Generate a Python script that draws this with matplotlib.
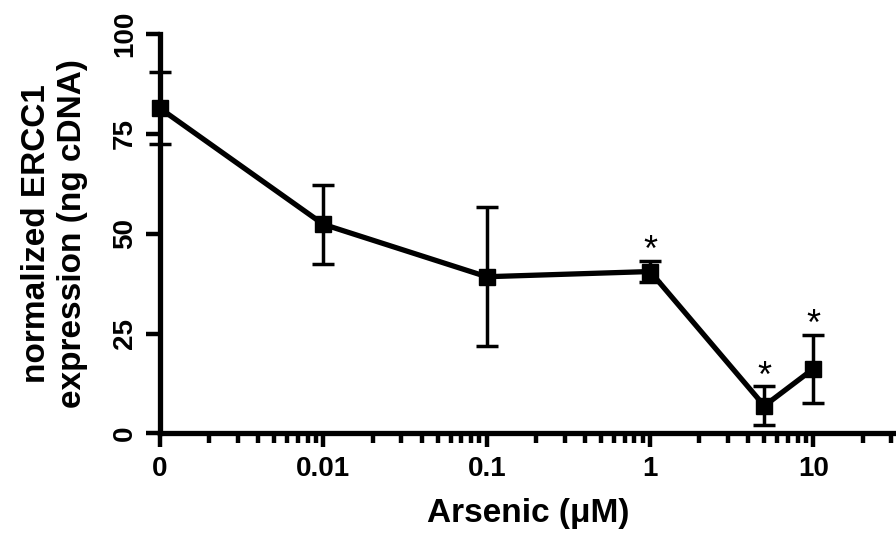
import matplotlib
matplotlib.use("Agg")
import matplotlib.pyplot as plt
from matplotlib.ticker import FixedLocator, FixedFormatter, LogLocator, NullFormatter

plt.rcParams['font.family'] = ['Liberation Sans', 'DejaVu Sans']
plt.rcParams['font.weight'] = 'bold'

# arsenic dose (uM); the "0" dose is drawn at 0.001 on the log axis
dose = [0.001, 0.01, 0.1, 1, 5, 10]
expr = [81.3, 52.3, 39.2, 40.5, 6.9, 16.2]
sem = [9.0, 9.8, 17.4, 2.7, 4.9, 8.5]
signif = [False, False, False, True, True, True]

xtick_pos = [0.001, 0.01, 0.1, 1, 10]
xtick_lab = ['0', '0.01', '0.1', '1', '10']
ytick_pos = [0, 25, 50, 75, 100]

fig = plt.figure(figsize=(8.96, 5.43), dpi=100)
ax = fig.add_axes([0.1786, 0.2017, 0.8214, 0.7364])

ax.errorbar(dose, expr, yerr=sem, color='black', lw=3.8, marker='s', ms=12,
            ecolor='black', elinewidth=2.5, capsize=8, capthick=2.5, zorder=3,
            clip_on=False)

for x, m, e, s in zip(dose, expr, sem, signif):
    if s:
        ax.annotate('*', xy=(x, m + e), xytext=(0, -6), textcoords='offset points',
                    ha='center', va='bottom', fontsize=26, fontweight='normal')

ax.set_xscale('log')
ax.set_xlim(0.001, 32)
ax.set_ylim(0, 100)

ax.xaxis.set_major_locator(FixedLocator(xtick_pos))
ax.xaxis.set_major_formatter(FixedFormatter(xtick_lab))
ax.xaxis.set_minor_locator(LogLocator(base=10, subs=range(2, 10), numticks=20))
ax.xaxis.set_minor_formatter(NullFormatter())
ax.yaxis.set_major_locator(FixedLocator(ytick_pos))
ax.yaxis.set_minor_locator(FixedLocator([]))

for side in ['top', 'right']:
    ax.spines[side].set_visible(False)
for side in ['left', 'bottom']:
    ax.spines[side].set_linewidth(3.8)

ax.tick_params(axis='both', which='major', direction='out', length=10, width=3.2,
               labelsize=20, pad=6)
ax.tick_params(axis='x', which='minor', direction='out', length=7.5, width=3.2)
plt.setp(ax.get_yticklabels(), rotation=90, va='center')

ax.set_xlabel('Arsenic (\u03bcM)', fontsize=24, fontweight='bold', labelpad=12)
ax.set_ylabel('normalized ERCC1\nexpression (ng cDNA)', fontsize=24,
              fontweight='bold', linespacing=1.2)
ax.yaxis.set_label_coords(-0.098, 0.5)

fig.savefig('out.png', dpi=100)
